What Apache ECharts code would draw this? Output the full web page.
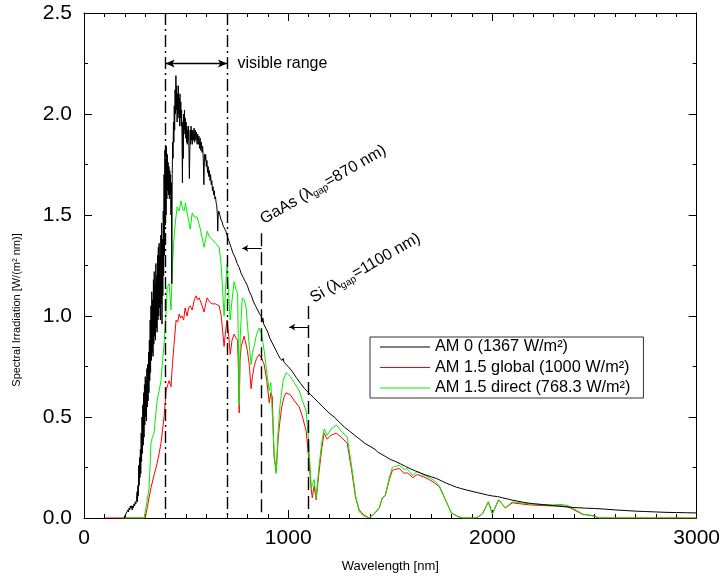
<!DOCTYPE html>
<html>
<head>
<meta charset="utf-8">
<script src="https://cdn.jsdelivr.net/npm/echarts@6/dist/echarts.min.js"></script>
<style>html,body{margin:0;padding:0;background:#fff}#c{width:723px;height:582px}</style>
</head>
<body>
<div id="c"></div>
<script>
const FONT = 'Liberation Sans, Arial, Helvetica, sans-serif';
const xTicks = [0, 1000, 2000, 3000];
const yTicks = [0, 0.5, 1.0, 1.5, 2.0, 2.5];
const seriesNames = ['AM 0 (1367 W/m²)', 'AM 1.5 global (1000 W/m²)', 'AM 1.5 direct (768.3 W/m²)'];

const am0 = [[196,0],[200,0.01],[205,0.02],[210,0.03],[215,0.04],[218,0.03],[221,0.05],[224,0.04],[227,0.06],[230,0.05],[233,0.06],[236,0.04],[239,0.06],[242,0.05],[245,0.07],[248,0.06],[251,0.08],[254,0.07],[257,0.09],[260,0.13],[262,0.08],[264,0.16],[266,0.11],[268,0.26],[270,0.16],[272,0.30],[274,0.20],[276,0.34],[278,0.22],[280,0.42],[282,0.28],[284,0.50],[286,0.32],[288,0.56],[290,0.36],[292,0.62],[294,0.40],[296,0.66],[298,0.46],[300,0.70],[302,0.50],[304,0.68],[306,0.48],[308,0.74],[310,0.55],[312,0.76],[314,0.58],[316,0.82],[318,0.62],[320,0.88],[322,0.68],[324,0.98],[326,0.72],[328,1.05],[330,0.78],[332,1.12],[334,0.82],[336,1.08],[338,0.80],[340,1.18],[342,0.86],[344,1.22],[346,0.90],[348,1.16],[350,0.88],[352,1.26],[354,0.94],[356,1.20],[358,0.92],[360,1.30],[362,0.98],[364,1.34],[366,1.00],[368,1.36],[370,1.04],[372,1.30],[374,0.98],[376,1.40],[378,1.06],[380,1.46],[382,0.96],[384,1.38],[386,1.10],[388,1.52],[390,1.20],[392,1.70],[394,1.30],[396,1.82],[398,1.45],[400,1.78],[402,1.50],[404,1.84],[406,1.58],[408,1.80],[410,1.62],[412,1.76],[414,1.60],[416,1.74],[418,1.58],[420,1.72],[422,1.60],[424,1.70],[426,1.50],[428,1.66],[430,1.16],[432,1.70],[434,1.86],[436,1.78],[438,1.96],[440,1.86],[442,2.04],[444,1.92],[446,2.12],[448,2.00],[450,2.19],[452,2.02],[454,2.14],[456,1.96],[458,2.10],[460,1.98],[462,2.14],[464,2.00],[466,2.08],[468,1.94],[470,2.10],[472,1.98],[474,2.06],[476,1.94],[478,2.02],[480,1.88],[482,1.66],[484,1.96],[486,1.78],[488,2.00],[490,1.90],[492,2.02],[494,1.92],[496,1.98],[498,1.88],[500,1.96],[502,1.86],[504,1.94],[506,1.85],[508,1.92],[510,1.87],[512,1.94],[514,1.82],[516,1.68],[518,1.80],[520,1.92],[522,1.85],[524,1.94],[526,1.87],[528,1.92],[530,1.85],[533,1.92],[536,1.87],[539,1.93],[542,1.86],[545,1.92],[548,1.87],[551,1.91],[554,1.85],[557,1.90],[560,1.85],[563,1.89],[566,1.83],[569,1.88],[572,1.82],[575,1.86],[578,1.81],[581,1.84],[584,1.78],[587,1.65],[590,1.80],[593,1.77],[596,1.80],[599,1.74],[602,1.77],[605,1.71],[608,1.74],[611,1.69],[614,1.72],[617,1.67],[620,1.70],[623,1.65],[626,1.67],[629,1.62],[632,1.64],[635,1.60],[638,1.62],[641,1.58],[644,1.59],[647,1.56],[650,1.55],[653,1.50],[655,1.42],[657,1.50],[660,1.52],[665,1.50],[670,1.48],[675,1.47],[680,1.45],[685,1.44],[690,1.43],[695,1.42],[700,1.40],[710,1.37],[720,1.34],[730,1.31],[740,1.29],[750,1.26],[760,1.24],[770,1.21],[780,1.19],[790,1.17],[800,1.15],[810,1.12],[820,1.10],[830,1.07],[840,1.05],[850,1.03],[860,1.01],[868,1.00],[872,0.97],[876,0.99],[880,0.96],[890,0.94],[900,0.92],[910,0.89],[920,0.87],[930,0.85],[940,0.83],[950,0.81],[960,0.79],[970,0.78],[975,0.79],[980,0.77],[990,0.76],[1000,0.75],[1020,0.725],[1040,0.695],[1060,0.667],[1080,0.64],[1100,0.62],[1125,0.595],[1150,0.57],[1175,0.545],[1200,0.52],[1225,0.50],[1250,0.475],[1275,0.45],[1300,0.43],[1325,0.41],[1350,0.39],[1375,0.37],[1400,0.355],[1425,0.34],[1440,0.325],[1445,0.33],[1450,0.32],[1475,0.305],[1500,0.29],[1525,0.28],[1550,0.268],[1575,0.255],[1600,0.243],[1625,0.232],[1650,0.222],[1675,0.212],[1700,0.204],[1725,0.196],[1750,0.184],[1775,0.172],[1800,0.162],[1825,0.152],[1850,0.145],[1875,0.138],[1900,0.132],[1925,0.126],[1950,0.12],[1975,0.114],[2000,0.109],[2025,0.106],[2050,0.1],[2075,0.094],[2100,0.088],[2125,0.083],[2150,0.078],[2175,0.074],[2200,0.071],[2250,0.066],[2300,0.061],[2350,0.056],[2400,0.052],[2450,0.049],[2500,0.047],[2550,0.044],[2600,0.04],[2650,0.037],[2700,0.034],[2750,0.032],[2800,0.03],[2850,0.028],[2900,0.027],[2950,0.026],[3000,0.025]];

const am15global = [[100,0],[300,0],[304,0],[315,0.08],[328,0.15],[345,0.22],[358,0.27],[368,0.32],[377,0.37],[385,0.44],[392,0.50],[402,0.63],[410,0.66],[417,0.68],[426,0.65],[433,0.76],[441,0.86],[451,0.98],[459,0.97],[466,1.01],[473,0.99],[480,1.00],[488,0.98],[495,1.04],[505,1.00],[512,1.04],[520,1.05],[530,1.03],[540,1.08],[549,1.10],[556,1.08],[564,1.09],[575,1.06],[588,1.02],[596,1.06],[603,1.09],[615,1.07],[627,1.06],[645,1.06],[662,1.05],[672,1.00],[686,0.85],[694,0.93],[701,0.98],[709,0.90],[716,0.81],[725,0.88],[735,0.91],[745,0.89],[752,0.88],[757,0.70],[760,0.52],[764,0.78],[770,0.85],[784,0.90],[800,0.83],[810,0.75],[818,0.64],[825,0.70],[833,0.75],[845,0.79],[858,0.81],[870,0.79],[882,0.76],[895,0.68],[907,0.57],[915,0.62],[922,0.60],[931,0.30],[941,0.23],[950,0.38],[956,0.45],[968,0.55],[980,0.60],[990,0.62],[1010,0.61],[1030,0.58],[1054,0.55],[1070,0.50],[1088,0.43],[1100,0.30],[1113,0.14],[1118,0.10],[1127,0.16],[1137,0.09],[1150,0.22],[1165,0.35],[1176,0.42],[1191,0.39],[1210,0.41],[1235,0.42],[1260,0.40],[1289,0.37],[1310,0.24],[1330,0.10],[1348,0.04],[1370,0.015],[1397,0],[1420,0.02],[1446,0.05],[1461,0.10],[1475,0.11],[1495,0.19],[1510,0.235],[1520,0.24],[1544,0.245],[1569,0.22],[1580,0.225],[1595,0.215],[1608,0.20],[1632,0.215],[1660,0.205],[1691,0.19],[1715,0.175],[1740,0.155],[1770,0.09],[1799,0.025],[1830,0.008],[1853,0],[1920,0],[1951,0.02],[1980,0.08],[2000,0.02],[2030,0.09],[2063,0.05],[2098,0.075],[2140,0.07],[2181,0.065],[2240,0.062],[2294,0.06],[2343,0.06],[2370,0.055],[2392,0.045],[2441,0.018],[2490,0.012],[2524,0],[3000,0]];

const am15direct = [[190,0],[294,0],[305,0.06],[319,0.15],[328,0.37],[335,0.40],[343,0.42],[350,0.50],[358,0.58],[368,0.63],[377,0.68],[385,0.78],[392,0.86],[402,1.01],[407,1.14],[417,1.16],[426,1.03],[433,1.25],[441,1.39],[448,1.47],[456,1.54],[466,1.52],[475,1.57],[483,1.53],[490,1.52],[497,1.56],[505,1.51],[513,1.47],[520,1.43],[530,1.51],[540,1.49],[554,1.49],[570,1.43],[588,1.34],[596,1.38],[603,1.42],[615,1.39],[627,1.38],[645,1.36],[662,1.34],[672,1.25],[686,1.00],[694,1.15],[701,1.26],[709,1.10],[716,0.98],[725,1.08],[735,1.17],[745,1.13],[752,1.11],[757,0.80],[760,0.56],[765,0.90],[775,1.09],[785,1.08],[794,1.04],[805,0.90],[818,0.76],[825,0.82],[833,0.85],[845,0.91],[858,0.94],[870,0.91],[882,0.83],[895,0.72],[907,0.63],[915,0.67],[922,0.67],[931,0.32],[941,0.22],[950,0.42],[960,0.56],[975,0.68],[990,0.72],[1010,0.70],[1030,0.67],[1054,0.63],[1070,0.58],[1088,0.53],[1100,0.38],[1113,0.15],[1120,0.17],[1127,0.19],[1137,0.10],[1150,0.25],[1165,0.38],[1176,0.44],[1191,0.41],[1210,0.44],[1235,0.46],[1260,0.43],[1289,0.40],[1310,0.26],[1330,0.11],[1348,0.03],[1370,0.01],[1397,0],[1420,0.02],[1446,0.05],[1461,0.10],[1475,0.11],[1495,0.20],[1510,0.25],[1520,0.255],[1544,0.26],[1569,0.24],[1580,0.245],[1595,0.23],[1608,0.21],[1632,0.23],[1660,0.215],[1691,0.20],[1715,0.185],[1740,0.16],[1770,0.09],[1799,0.025],[1830,0.008],[1853,0],[1920,0],[1951,0.02],[1980,0.08],[2000,0.02],[2030,0.09],[2063,0.05],[2098,0.08],[2140,0.075],[2181,0.07],[2240,0.067],[2294,0.065],[2343,0.067],[2370,0.06],[2392,0.05],[2441,0.02],[2490,0.01],[2524,0],[3000,0]];

// annotation positions in data units (nm, W/(m² nm))
const visibleRange = [400, 700];
const visibleArrowY = 2.25;
const gapGaAs = 870, gapSi = 1100;
const gaAsLineTop = 1.41, siLineTop = 1.05;
const gaAsArrow = [775, 1.335], siArrow = [1005, 0.945];

const chart = echarts.init(document.getElementById('c'), null, {renderer: 'canvas'});

const axisCommon = {
  axisLine: {show: true, onZero: false, lineStyle: {color: '#000', width: 1}},
  axisTick: {show: true, inside: true, length: 8, lineStyle: {color: '#000', width: 1}},
  minorTick: {show: true, length: 4, lineStyle: {color: '#000', width: 1}},
  splitLine: {show: false},
  minorSplitLine: {show: false}
};

const dashDot = [12, 4, 2, 4];
const dashed = [13, 6];

const option = {
  animation: false,
  backgroundColor: '#fff',
  grid: {left: 84, right: 25, top: 13, bottom: 64},
  xAxis: [
    Object.assign({}, axisCommon, {
      type: 'value', min: xTicks[0], max: xTicks[xTicks.length - 1], interval: 1000, position: 'bottom',
      minorTick: Object.assign({}, axisCommon.minorTick, {splitNumber: 10}),
      axisLabel: {color: '#000', fontSize: 21, fontFamily: FONT, margin: 10, formatter: v => String(v)},
      name: 'Wavelength [nm]', nameLocation: 'middle', nameGap: 42,
      nameTextStyle: {color: '#000', fontSize: 13, fontFamily: FONT}
    }),
    Object.assign({}, axisCommon, {
      type: 'value', min: xTicks[0], max: xTicks[xTicks.length - 1], interval: 1000, position: 'top',
      minorTick: Object.assign({}, axisCommon.minorTick, {splitNumber: 10}),
      axisLabel: {show: false}
    })
  ],
  yAxis: [
    Object.assign({}, axisCommon, {
      type: 'value', min: yTicks[0], max: yTicks[yTicks.length - 1], interval: 0.5, position: 'left',
      minorTick: Object.assign({}, axisCommon.minorTick, {splitNumber: 2}),
      axisLabel: {color: '#000', fontSize: 21, fontFamily: FONT, margin: 12, formatter: v => v.toFixed(1)}
    }),
    Object.assign({}, axisCommon, {
      type: 'value', min: yTicks[0], max: yTicks[yTicks.length - 1], interval: 0.5, position: 'right',
      minorTick: Object.assign({}, axisCommon.minorTick, {splitNumber: 2}),
      axisLabel: {show: false}
    })
  ],
  legend: {
    orient: 'vertical', left: 370, top: 337,
    data: seriesNames.map(n => ({name: n, icon: 'rect'})),
    padding: [1, 13, 1, 10], itemGap: 2.5, itemWidth: 50, itemHeight: 1,
    borderColor: '#333', borderWidth: 1, backgroundColor: '#fff',
    textStyle: {color: '#000', fontSize: 16.3, lineHeight: 18, fontFamily: FONT}
  },
  series: [
    {
      name: seriesNames[0], type: 'line', data: am0, symbol: 'none', z: 4,
      lineStyle: {color: '#000', width: 1}, itemStyle: {color: '#000'}
    },
    {
      name: seriesNames[1], type: 'line', data: am15global, symbol: 'none', z: 2,
      lineStyle: {color: '#ff0000', width: 1}, itemStyle: {color: '#ff0000'}
    },
    {
      name: seriesNames[2], type: 'line', data: am15direct, symbol: 'none', z: 3,
      lineStyle: {color: '#00ee00', width: 1}, itemStyle: {color: '#00ee00'}
    },
    {
      name: 'annotations', type: 'line', data: [], z: 5,
      markLine: {
        silent: true, animation: false, symbol: ['none', 'none'], label: {show: false},
        emphasis: {disabled: true},
        data: [
          [{coord: [visibleRange[0], 2.5], lineStyle: {type: dashDot, color: '#000', width: 1.4}}, {coord: [visibleRange[0], 0]}],
          [{coord: [visibleRange[1], 2.5], lineStyle: {type: dashDot, color: '#000', width: 1.4}}, {coord: [visibleRange[1], 0]}],
          [{coord: [gapGaAs, gaAsLineTop], lineStyle: {type: dashed, color: '#000', width: 1.4}}, {coord: [gapGaAs, 0]}],
          [{coord: [gapSi, siLineTop], lineStyle: {type: dashed, color: '#000', width: 1.4}}, {coord: [gapSi, 0]}],
          [{coord: [visibleRange[0], visibleArrowY], symbol: 'arrow', symbolSize: [6, 9], lineStyle: {type: 'solid', color: '#000', width: 1.4}},
           {coord: [visibleRange[1], visibleArrowY], symbol: 'arrow', symbolSize: [6, 9]}],
          [{coord: [gapGaAs, gaAsArrow[1]], symbol: 'none', lineStyle: {type: 'solid', color: '#000', width: 1}},
           {coord: gaAsArrow, symbol: 'arrow', symbolSize: [5, 6]}],
          [{coord: [gapSi, siArrow[1]], symbol: 'none', lineStyle: {type: 'solid', color: '#000', width: 1}},
           {coord: siArrow, symbol: 'arrow', symbolSize: [5, 6]}]
        ]
      }
    }
  ]
};
chart.setOption(option);

function px(p) { return chart.convertToPixel({gridIndex: 0}, p); }
const pVis = px([752, visibleArrowY]);
const pGa = px([891, 1.435]);
const pSi = px([1136, 1.045]);
const rich = {
  a: {fontSize: 16, fontFamily: FONT, fill: '#000', lineHeight: 18},
  b: {fontSize: 10, fontFamily: FONT, fill: '#000', lineHeight: 10, verticalAlign: 'bottom'}
};
chart.setOption({
  graphic: [
    {type: 'text', x: pVis[0], y: pVis[1], silent: true,
     style: {text: 'visible range', fontSize: 16, fontFamily: FONT, fill: '#000', align: 'left', verticalAlign: 'middle'}},
    {type: 'text', x: pGa[0], y: pGa[1], rotation: Math.PI / 6, silent: true,
     style: {text: '{a|GaAs (λ}{b|gap}{a|=870 nm)}', rich: rich, align: 'left', verticalAlign: 'bottom'}},
    {type: 'text', x: pSi[0], y: pSi[1], rotation: Math.PI / 6, silent: true,
     style: {text: '{a|Si (λ}{b|gap}{a|=1100 nm)}', rich: rich, align: 'left', verticalAlign: 'bottom'}},
    {type: 'text', x: 17, y: 310, rotation: Math.PI / 2, silent: true,
     style: {text: 'Spectral Irradiation [W/(m² nm)]', fontSize: 11, fontFamily: FONT, fill: '#000', align: 'center', verticalAlign: 'middle'}}
  ]
});
</script>
</body>
</html>
